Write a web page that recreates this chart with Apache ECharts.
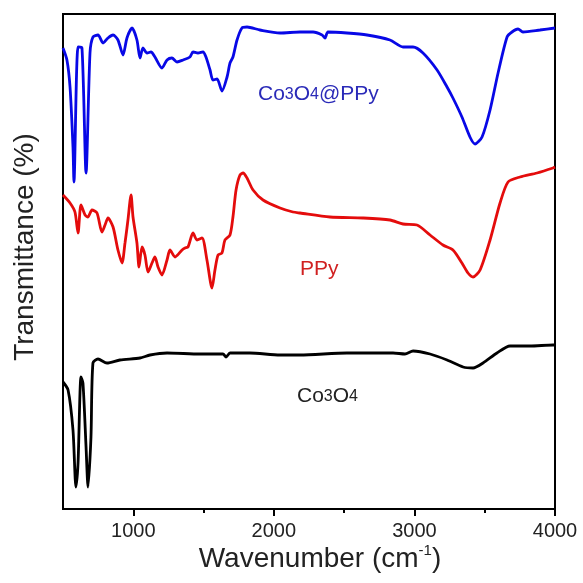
<!DOCTYPE html>
<html><head><meta charset="utf-8">
<script src="https://cdn.jsdelivr.net/npm/echarts@6/dist/echarts.min.js"></script>
<style>html,body{margin:0;padding:0;background:#fff}#c{width:583px;height:583px}</style>
</head><body><div id="c"></div>
<script>
// Wavenumber (cm-1) / transmittance (arbitrary units, offset curves)
var blueW = [500,528,550,571,578,607,635,664,692,713,749,785,820,856,891,927,955,991,1026,1048,1069,1098,1126,1154,1204,1240,1275,1311,1354,1403,1425,1460,1496,1517,1546,1567,1596,1631,1667,1688,1709,1738,1773,1809,1901,2044,2186,2279,2343,2364,2385,2520,2663,2826,2919,2990,3061,3161,3232,3274,3338,3395,3431,3481,3538,3595,3659,3694,3737,3772,3893,4000];
var blueT = [461,449,422,362,327,462,461,336,456,472,474,466,471,474,469,454,471,481,469,451,461,456,457,452,441,449,451,447,449,452,457,456,457,452,439,429,430,418,432,446,452,469,481,482,479,476,477,477,474,471,477,476,474,469,462,462,456,439,422,411,392,372,365,372,399,436,472,477,480,477,479,481];

var redW = [500,550,585,607,628,657,678,706,742,777,799,820,856,891,920,941,955,962,984,998,1026,1041,1062,1083,1105,1133,1154,1176,1204,1240,1261,1297,1347,1368,1389,1425,1453,1489,1524,1560,1581,1603,1631,1652,1688,1709,1731,1759,1781,1809,1852,1923,2044,2136,2186,2399,2634,2826,2919,3018,3111,3203,3274,3338,3381,3417,3467,3538,3609,3666,3751,3872,3986,4000];
var redT = [314,306,297,276,304,294,292,299,296,277,284,291,282,259,246,266,281,289,314,292,266,242,262,254,237,246,252,242,234,249,259,252,259,261,262,276,269,271,249,221,239,254,256,269,274,292,319,334,336,331,319,309,301,297,296,292,291,289,285,284,274,264,259,246,236,232,239,269,306,327,332,336,341,342];

var blackW = [500,536,571,592,607,628,642,664,678,699,713,749,813,905,1048,1119,1240,1475,1638,1660,1688,1830,2044,2186,2520,2848,2933,2990,3111,3232,3346,3417,3488,3587,3680,3822,3986,4000];
var blackT = [127,119,79,22,46,132,126,62,22,72,146,150,146,149,151,154,156,155,155,152,156,156,154,154,156,156,155,158,155,149,142,141,146,156,163,163,164,164];

var majorTicks = [1000,2000,3000,4000];
var minorTicks = [1500,2500,3500];

function pairs(w,t){return w.map(function(x,i){return [x,t[i]];});}

var chart = echarts.init(document.getElementById('c'), null, {renderer:'canvas'});
var ff = '"Liberation Sans", Arial, sans-serif';
var sub = function(col){return {a:{fontSize:21,fontFamily:ff,fill:col,lineHeight:24},s:{fontSize:16,fontFamily:ff,fill:col,lineHeight:24}};};
chart.setOption({
  animation:false,
  backgroundColor:'#fff',
  grid:{left:63,right:28,top:14,bottom:74,show:true,borderColor:'#000',borderWidth:2,backgroundColor:'transparent'},
  xAxis:[{
    type:'value',min:500,max:4000,
    axisLine:{show:true,onZero:false,lineStyle:{color:'#000',width:2}},
    axisTick:{show:true,customValues:majorTicks,length:7,lineStyle:{color:'#000',width:2}},
    axisLabel:{customValues:majorTicks,color:'#222',fontSize:20,fontFamily:ff,margin:12,formatter:function(v){return String(v);}},
    splitLine:{show:false}
  },{
    type:'value',min:500,max:4000,position:'bottom',
    axisLine:{show:false},
    axisTick:{show:true,customValues:minorTicks,length:4,lineStyle:{color:'#000',width:2}},
    axisLabel:{show:false},splitLine:{show:false}
  }],
  yAxis:{
    type:'value',min:0,max:495,
    axisLine:{show:true,onZero:false,lineStyle:{color:'#000',width:2}},
    axisTick:{show:false},axisLabel:{show:false},splitLine:{show:false}
  },
  series:[
    {type:'line',name:'Co3O4@PPy',data:pairs(blueW,blueT),showSymbol:false,smooth:0.25,lineStyle:{color:'#0808e6',width:2.8},z:3},
    {type:'line',name:'PPy',data:pairs(redW,redT),showSymbol:false,smooth:0.25,lineStyle:{color:'#e40c0c',width:2.8},z:3},
    {type:'line',name:'Co3O4',data:pairs(blackW,blackT),showSymbol:false,smooth:0.25,lineStyle:{color:'#000',width:2.8},z:3}
  ],
  graphic:[
    {type:'text',x:320,y:559,style:{text:'{a|Wavenumber (cm}{s|-1}{a|)}',align:'center',verticalAlign:'middle',
      rich:{a:{fontSize:28,fontFamily:ff,fill:'#222',lineHeight:32},s:{fontSize:15,fontFamily:ff,fill:'#222',lineHeight:32,verticalAlign:'top',padding:[0,0,0,0]}}}},
    {type:'text',x:25,y:247,rotation:Math.PI/2,style:{text:'Transmittance (%)',align:'center',verticalAlign:'middle',fontSize:28,fontFamily:ff,fill:'#222'}},
    {type:'text',left:258,top:84,style:{text:'{a|Co}{s|3}{a|O}{s|4}{a|@PPy}',rich:sub('#2a2ab8')}},
    {type:'text',left:300,top:259,style:{text:'PPy',fontSize:21,fontFamily:ff,fill:'#d02020'}},
    {type:'text',left:297,top:386,style:{text:'{a|Co}{s|3}{a|O}{s|4}',rich:sub('#222')}}
  ]
});
</script></body></html>
